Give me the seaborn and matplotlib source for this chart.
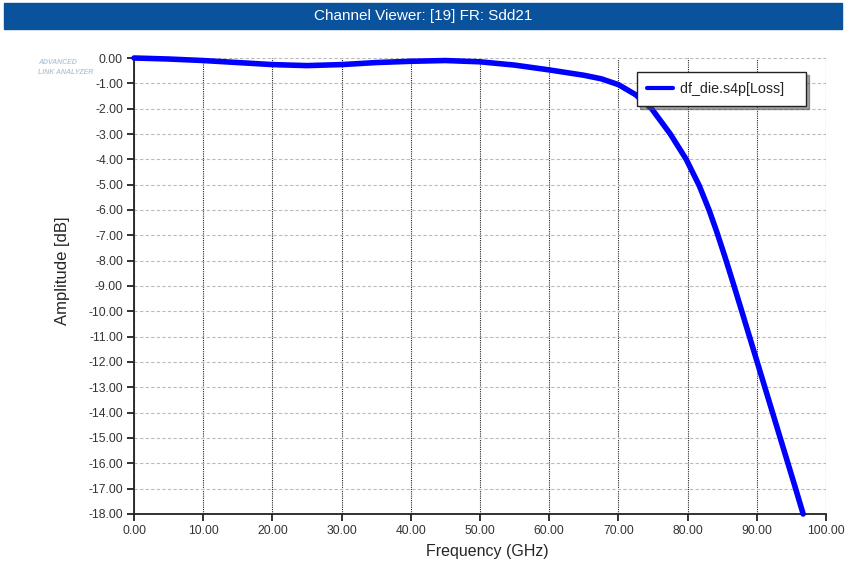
import numpy as np
import pandas as pd
import matplotlib

matplotlib.use("Agg")
import matplotlib.pyplot as plt
import seaborn as sns

# 读图得到的数据 (GHz, dB)
freq = [0, 5, 10, 15, 20, 25, 30, 35, 40, 45, 50, 55, 60, 65, 67.5, 70,
        72.5, 74.8, 77.5, 79.8, 81.7, 83.1, 84.2, 85.4, 86.6, 87.7, 88.8,
        89.9, 91.0, 92.2, 93.4, 94.4, 95.5, 96.7]
loss = [0.0, -0.04, -0.1, -0.18, -0.26, -0.3, -0.26, -0.18, -0.13, -0.1,
        -0.15, -0.28, -0.47, -0.68, -0.82, -1.05, -1.45, -2.0, -3.0, -4.0,
        -5.05, -6.0, -6.85, -7.85, -8.9, -9.88, -10.87, -11.86, -12.85,
        -13.93, -15.01, -15.91, -16.9, -18.0]
series_name = "df_die.s4p[Loss]"
x_ticks = list(range(0, 101, 10))
y_ticks = list(range(0, -19, -1))

data = pd.DataFrame({"freq": freq, "loss": loss, "name": series_name})

sns.set_style("white")
plt.rcParams["font.family"] = ["Liberation Sans", "DejaVu Sans"]

fig = plt.figure(figsize=(8.46, 5.64), dpi=100)
ax = fig.add_axes([134 / 846, 1 - 514 / 564, (826 - 134) / 846, (514 - 58) / 564])

# 标题栏
fig.patches.append(plt.Rectangle((4 / 846, 1 - 29 / 564), 838 / 846, 26 / 564,
                                 transform=fig.transFigure, color="#0a529c", zorder=0))
fig.text(0.5, 1 - 16 / 564, "Channel Viewer: [19] FR: Sdd21", color="white",
         ha="center", va="center", fontsize=11)
# logo
fig.text(38 / 846, 1 - 62 / 564, "ADVANCED", color="#b5c9d8", fontsize=5,
         style="italic", weight="bold", va="center")
fig.text(38 / 846, 1 - 72 / 564, "LINK ANALYZER", color="#b5c9d8", fontsize=5,
         style="italic", weight="bold", va="center")

sns.lineplot(x="freq", y="loss", hue="name", data=data, ax=ax,
             palette=["#0000ff"], linewidth=4, clip_on=False, zorder=5)

ax.set_xlim(0, 100)
ax.set_ylim(-18, 0)
ax.set_xticks(x_ticks)
ax.set_yticks(y_ticks)
ax.set_xticklabels([f"{v:.2f}" for v in x_ticks], fontsize=8.7, color="#333333")
ax.set_yticklabels([f"{v:.2f}" for v in y_ticks], fontsize=8.7, color="#333333")
ax.tick_params(direction="out", length=5, width=1.3, colors="#222222", pad=3,
               bottom=True, left=True)
ax.tick_params(axis="both", labelcolor="#333333")

ax.xaxis.grid(True, color="#222222", linestyle=(0, (1, 1)), linewidth=0.8)
ax.yaxis.grid(True, color="#bbbbbb", linestyle=(0, (3, 2)), linewidth=0.8)
for side in ["top", "right"]:
    ax.spines[side].set_visible(False)
for side in ["left", "bottom"]:
    ax.spines[side].set_color("#222222")
    ax.spines[side].set_linewidth(1.3)

ax.set_xlabel("Frequency (GHz)", fontsize=11.5)
ax.set_ylabel("Amplitude [dB]", fontsize=12)
ax.xaxis.set_label_coords(0.51, -0.066)
ax.yaxis.set_label_coords(-0.0925, 0.533)

handles, _ = ax.get_legend_handles_labels()
leg = ax.legend(handles, [series_name + "   "], loc="upper right",
                bbox_to_anchor=(1 - 20 / 692, 1 - 14 / 456),
                frameon=True, fancybox=False, shadow=True, fontsize=10.3,
                handlelength=1.8, handletextpad=0.5, borderpad=0.7,
                borderaxespad=0)
leg.get_frame().set_edgecolor("#222222")
leg.get_frame().set_linewidth(1)
for line in leg.get_lines():
    line.set_linewidth(3)

fig.savefig("out.png", dpi=100)
